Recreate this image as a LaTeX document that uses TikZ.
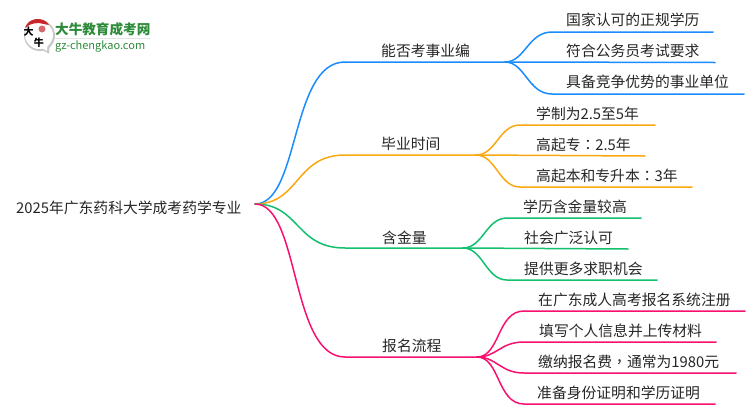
\documentclass[tikz,border=0pt]{standalone}
\usepackage{fontspec}
\setmainfont{Noto Sans CJK SC}
\newfontfamily\tcpunct{Noto Sans CJK TC}
\definecolor{cblue}{HTML}{1A8CFF}
\definecolor{corange}{HTML}{F9A80F}
\definecolor{cgreen}{HTML}{12C06E}
\definecolor{cpink}{HTML}{F8106E}
\definecolor{logogreen}{HTML}{2E8B3A}
\definecolor{logored}{HTML}{C8282A}
\tikzset{
 lab/.style={anchor=base west,inner sep=0pt,text=black!85,font=\fontsize{14.8}{16}\selectfont},
 br/.style={line width=1.5pt,line cap=round},
 logochar/.style={inner sep=0pt,font=\fontsize{10}{10}\selectfont\bfseries},
}
\begin{document}
\begin{tikzpicture}[x=1pt,y=-1pt]
\useasboundingbox (0,0) rectangle (750,410);
% logo
\fill[black!22] (39.5,35.5) circle (15.5);
\fill[black!22] (38,48) -- (49,53.5) -- (50,42) -- cycle;
\fill[white] (39,35) circle (14);
\fill[white] (40,47) -- (47,51) -- (47.5,44) -- cycle;
\fill[logored] (25,28) .. controls (28,17) and (44,16) .. (49,25) -- (44,24) .. controls (38,22) and (30,23) .. (25,28) -- cycle;
\fill[logored!70] (42,29) circle (3.5);
\node[logochar] (logoa) at (28.5,32) {大};
\node[logochar] (logob) at (38.8,42.5) {牛};
\node[anchor=base west,inner sep=0pt,text=logogreen,font=\fontsize{13.6}{14}\selectfont\bfseries] (logot) at (55,34.5) {大牛教育成考网};
\fill[black!10] (55,38) rectangle (150,39);
\node[anchor=base west,inner sep=0pt,text=logogreen,font=\fontsize{11}{11}\selectfont] (logou) at (55,49) {gz-chengkao.com};
% coordinates
\coordinate (r) at (255,204);
\coordinate (a) at (345,62); \coordinate (ae) at (505,62);
\coordinate (b) at (345,155); \coordinate (be) at (476,155);
\coordinate (c) at (345,248); \coordinate (ce) at (463,248);
\coordinate (d) at (345,357); \coordinate (de) at (477,357);
% root text
\node[lab,anchor=base west] (root) at (16,213) {2025年广东药科大学成考药学专业};
% main branches
\draw[br,cblue] (r) .. controls (300,204) and (290,62) .. (a) -- (ae);
\draw[br,corange] (r) .. controls (300,204) and (295,155) .. (b) -- (be);
\draw[br,cgreen] (r) .. controls (300,204) and (295,248) .. (c) -- (ce);
\draw[br,cpink] (r) .. controls (300,204) and (290,357) .. (d) -- (de);
% blue children
\coordinate (a1) at (552,32); \coordinate (a1e) at (713,32);
\coordinate (a2e) at (715,62.5);
\coordinate (a3) at (552,94); \coordinate (a3e) at (744,94);
\draw[br,cblue] (ae) .. controls (525,62) and (528,32) .. (a1) -- (a1e);
\draw[br,cblue] (ae) -- (a2e);
\draw[br,cblue] (ae) .. controls (525,62) and (528,94) .. (a3) -- (a3e);
\node[lab] (ta1) at (566,25) {国家认可的正规学历};
\node[lab] (ta2) at (566,56) {符合公务员考试要求};
\node[lab] (ta3) at (566,87) {具备竞争优势的事业单位};
\node[lab] (ta) at (381,56) {能否考事业编};
% orange children
\coordinate (b1) at (520,125); \coordinate (b1e) at (655,125);
\coordinate (b2e) at (645,156);
\coordinate (b3) at (520,187); \coordinate (b3e) at (692,187);
\draw[br,corange] (be) .. controls (496,155) and (499,125) .. (b1) -- (b1e);
\draw[br,corange] (be) -- (b2e);
\draw[br,corange] (be) .. controls (496,155) and (499,187) .. (b3) -- (b3e);
\node[lab] (tb1) at (536,119) {学制为2.5至5年};
\node[lab] (tb2) at (536,150) {高起专{\tcpunct ：}2.5年};
\node[lab] (tb3) at (536,181) {高起本和专升本{\tcpunct ：}3年};
\node[lab] (tb) at (381,149) {毕业时间};
% green children
\coordinate (c1) at (507,218); \coordinate (c1e) at (641,218);
\coordinate (c2e) at (628,249);
\coordinate (c3) at (507,280); \coordinate (c3e) at (657,280);
\draw[br,cgreen] (ce) .. controls (483,248) and (486,218) .. (c1) -- (c1e);
\draw[br,cgreen] (ce) -- (c2e);
\draw[br,cgreen] (ce) .. controls (483,248) and (486,280) .. (c3) -- (c3e);
\node[lab] (tc1) at (523,212) {学历含金量较高};
\node[lab] (tc2) at (524,243) {社会广泛认可};
\node[lab] (tc3) at (524,274) {提供更多求职机会};
\node[lab] (tc) at (382,243) {含金量};
% pink children
\coordinate (d1) at (524,311); \coordinate (d1e) at (745,311);
\coordinate (d2) at (524,342); \coordinate (d2e) at (716,342);
\coordinate (d3) at (524,373); \coordinate (d3e) at (736,373);
\coordinate (d4) at (524,404); \coordinate (d4e) at (715,404);
\draw[br,cpink] (de) .. controls (500,357) and (497,311) .. (d1) -- (d1e);
\draw[br,cpink] (de) .. controls (497,357) and (500,342) .. (d2) -- (d2e);
\draw[br,cpink] (de) .. controls (497,357) and (500,373) .. (d3) -- (d3e);
\draw[br,cpink] (de) .. controls (500,357) and (497,404) .. (d4) -- (d4e);
\node[lab] (td1) at (538,305) {在广东成人高考报名系统注册};
\node[lab] (td2) at (539,336) {填写个人信息并上传材料};
\node[lab] (td3) at (538,367) {缴纳报名费{\tcpunct ，}通常为1980元};
\node[lab] (td4) at (537,398) {准备身份证明和学历证明};
\node[lab] (td) at (382,351) {报名流程};
\end{tikzpicture}
\end{document}
